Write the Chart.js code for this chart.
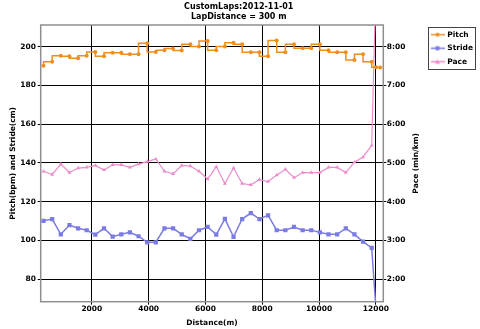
<!DOCTYPE html>
<html><head><meta charset="utf-8">
<script src="https://cdn.jsdelivr.net/npm/chart.js@4.4.1/dist/chart.umd.min.js"></script>
<style>html,body{margin:0;padding:0;background:#fff;} #wrap{width:480px;height:329px;}</style>
</head><body><div id="wrap"><canvas id="c" width="480" height="329"></canvas></div>
<script>
// Distance (m) of each lap point
const distances = [300, 604, 908, 1212, 1516, 1820, 2124, 2428, 2732, 3036, 3340, 3644, 3948, 4252, 4556, 4860, 5164, 5468, 5772, 6076, 6380, 6684, 6988, 7292, 7596, 7900, 8204, 8508, 8812, 9116, 9420, 9724, 10028, 10332, 10636, 10940, 11244, 11548, 11852, 12010, 12150];
// Pitch (bpm)
const pitch = [190.2, 192.2, 195.3, 195.0, 194.0, 195.3, 197.3, 195.0, 196.9, 196.9, 196.1, 196.1, 201.8, 197.2, 198.1, 199.1, 198.0, 201.2, 200.1, 203.0, 198.1, 200.1, 202.0, 201.2, 197.1, 197.1, 195.1, 203.2, 197.1, 201.2, 199.2, 199.2, 201.2, 198.1, 197.1, 197.1, 193.1, 196.1, 192.2, 189.4, 189.2];
// Stride (cm)
const stride = [110.1, 111.0, 103.1, 107.9, 106.2, 105.2, 102.9, 106.2, 101.9, 103.1, 104.1, 102.1, 99.0, 99.0, 106.2, 106.2, 103.1, 100.8, 105.2, 106.9, 103.0, 111.1, 101.8, 111.0, 114.1, 111.0, 112.9, 105.2, 105.2, 106.9, 105.2, 105.2, 104.1, 103.1, 103.1, 106.2, 103.1, 99.3, 96.1, 62.8, null];
// Pace (seconds per km)
const pace = [287, 282, 298, 285, 292, 293, 296, 289, 297, 297, 293, 298, 302, 306, 287, 283, 296, 295, 287, 275, 294, 268, 292, 268, 266, 274, 271, 281, 290, 277, 285, 285, 285, 293, 293, 285, 301, 309, 327, 594, null];

const xTicks = [2000, 4000, 6000, 8000, 10000, 12000];
const leftTicks = [80, 100, 120, 140, 160, 180, 200];
const paceTicks = [120, 180, 240, 300, 360, 420, 480];

const seriesNames = ['Pitch', 'Stride', 'Pace'];
const colors = ['#EE8E1C', '#7B7BE4', '#EC8CCB'];

const FONT = 'DejaVu Sans';
Chart.defaults.font.family = FONT;
Chart.defaults.font.size = 7.5;
Chart.defaults.font.weight = 'bold';
Chart.defaults.color = '#000';

function toPts(arr) { return distances.map((d, i) => ({x: d, y: arr[i]})); }
function fmtPace(v) { const m = Math.floor(v / 60); const s = Math.round(v - m * 60); return m + ':' + String(s).padStart(2, '0'); }

function makeIcon(color, shape) {
  const c = document.createElement('canvas');
  c.width = 14; c.height = 9;
  const g = c.getContext('2d');
  g.strokeStyle = color; g.fillStyle = color; g.lineWidth = 1.5;
  g.beginPath(); g.moveTo(0, 4.5); g.lineTo(14, 4.5); g.stroke();
  g.beginPath();
  if (shape === 'circle') { g.arc(7, 4.5, 2, 0, Math.PI * 2); }
  else if (shape === 'rect') { g.rect(5, 2.5, 4, 4); }
  else { g.moveTo(7, 2); g.lineTo(9.5, 6.5); g.lineTo(4.5, 6.5); g.closePath(); }
  g.fill();
  return c;
}
const icons = [makeIcon(colors[0], 'circle'), makeIcon(colors[1], 'rect'), makeIcon(colors[2], 'tri')];

const frameAndTitles = {
  id: 'frameAndTitles',
  beforeDatasetsDraw(chart) {
    const {ctx, chartArea: a} = chart;
    ctx.save();
    ctx.strokeStyle = '#8f8f8f';
    ctx.lineWidth = 1.5;
    ctx.strokeRect(a.left, a.top, a.right - a.left, a.bottom - a.top);
    ctx.restore();
  },
  afterDraw(chart) {
    const {ctx, chartArea: a, legend} = chart;
    ctx.save();
    ctx.fillStyle = '#000';
    ctx.font = 'bold 7.5px "' + FONT + '"';
    ctx.textAlign = 'center';
    ctx.textBaseline = 'middle';
    ctx.translate(416, (a.top + a.bottom) / 2);
    ctx.rotate(-Math.PI / 2);
    ctx.fillText('Pace (min/km)', 0, 0);
    ctx.restore();
    if (legend) {
      ctx.save();
      ctx.strokeStyle = '#444';
      ctx.lineWidth = 1;
      ctx.strokeRect(Math.round(legend.left + 2.5) + 0.5, Math.round(legend.top + 2) + 0.5, 47, 42);
      ctx.restore();
    }
  }
};

const gridDash = {color: '#000', lineWidth: 1, borderDash: [2, 2], tickLength: 3, tickBorderDash: [], drawTicks: true};

new Chart(document.getElementById('c'), {
  type: 'line',
  data: {
    datasets: [
      {label: seriesNames[0], data: toPts(pitch), yAxisID: 'y', borderColor: colors[0], backgroundColor: colors[0], borderWidth: 1.5, stepped: 'after', pointStyle: 'circle', pointRadius: 2, pointBorderWidth: 0, pointBackgroundColor: colors[0]},
      {label: seriesNames[1], data: toPts(stride), yAxisID: 'y', borderColor: colors[1], backgroundColor: colors[1], borderWidth: 1.5, pointStyle: 'rect', pointRadius: 3, pointBorderWidth: 0, pointBackgroundColor: colors[1], spanGaps: false},
      {label: seriesNames[2], data: toPts(pace), yAxisID: 'y1', borderColor: colors[2], backgroundColor: colors[2], borderWidth: 1.2, pointStyle: 'triangle', pointRadius: 2.3, pointBorderWidth: 0, pointBackgroundColor: colors[2]}
    ]
  },
  options: {
    responsive: false,
    animation: false,
    devicePixelRatio: 1,
    layout: {padding: {left: 0, right: 2.5, top: 0, bottom: 0}},
    plugins: {
      title: {display: true, text: ['CustomLaps:2012-11-01', 'LapDistance = 300 m'], font: {size: 8, weight: 'bold', lineHeight: 1.3}, color: '#000', padding: {top: 1.5, bottom: 2.7}},
      legend: {
        position: 'right', align: 'start', fullSize: false, maxWidth: 52,
        labels: {
          usePointStyle: true, pointStyleWidth: 12, padding: 6, color: '#000',
          font: {size: 7.5, weight: 'bold'},
          generateLabels: (chart) => Chart.defaults.plugins.legend.labels.generateLabels(chart).map((l, i) => Object.assign(l, {pointStyle: icons[i]}))
        }
      },
      tooltip: {enabled: false}
    },
    scales: {
      x: {
        type: 'linear', min: 200, max: 12260,
        afterBuildTicks: (s) => { s.ticks = xTicks.map(v => ({value: v})); },
        afterFit: (s) => { s.height = 27.3; },
        ticks: {padding: 0, maxRotation: 0, autoSkip: false, callback: (v) => String(v)},
        grid: gridDash,
        border: {display: false},
        title: {display: true, text: 'Distance(m)', padding: {top: 0, bottom: 1.8}, font: {size: 7.5, weight: 'bold'}}
      },
      y: {
        type: 'linear', position: 'left', min: 68.3, max: 211.2,
        afterBuildTicks: (s) => { s.ticks = leftTicks.map(v => ({value: v})); },
        afterFit: (s) => { s.width = 40.7; },
        ticks: {padding: 1.7, autoSkip: false, callback: (v) => String(v)},
        grid: gridDash,
        border: {display: false},
        title: {display: true, text: 'Pitch(bpm) and Stride(cm)', padding: {top: 8.5, bottom: 0}, font: {size: 7.5, weight: 'bold'}}
      },
      y1: {
        type: 'linear', position: 'right', min: 84.9, max: 513.6,
        afterBuildTicks: (s) => { s.ticks = paceTicks.map(v => ({value: v})); },
        afterFit: (s) => { s.width = 42.2; },
        ticks: {padding: 0.4, autoSkip: false, callback: (v) => fmtPace(v)},
        grid: {drawOnChartArea: false, color: '#000', tickLength: 3, drawTicks: true},
        border: {display: false},
        title: {display: false}
      }
    }
  },
  plugins: [frameAndTitles]
});
</script>
</body></html>
